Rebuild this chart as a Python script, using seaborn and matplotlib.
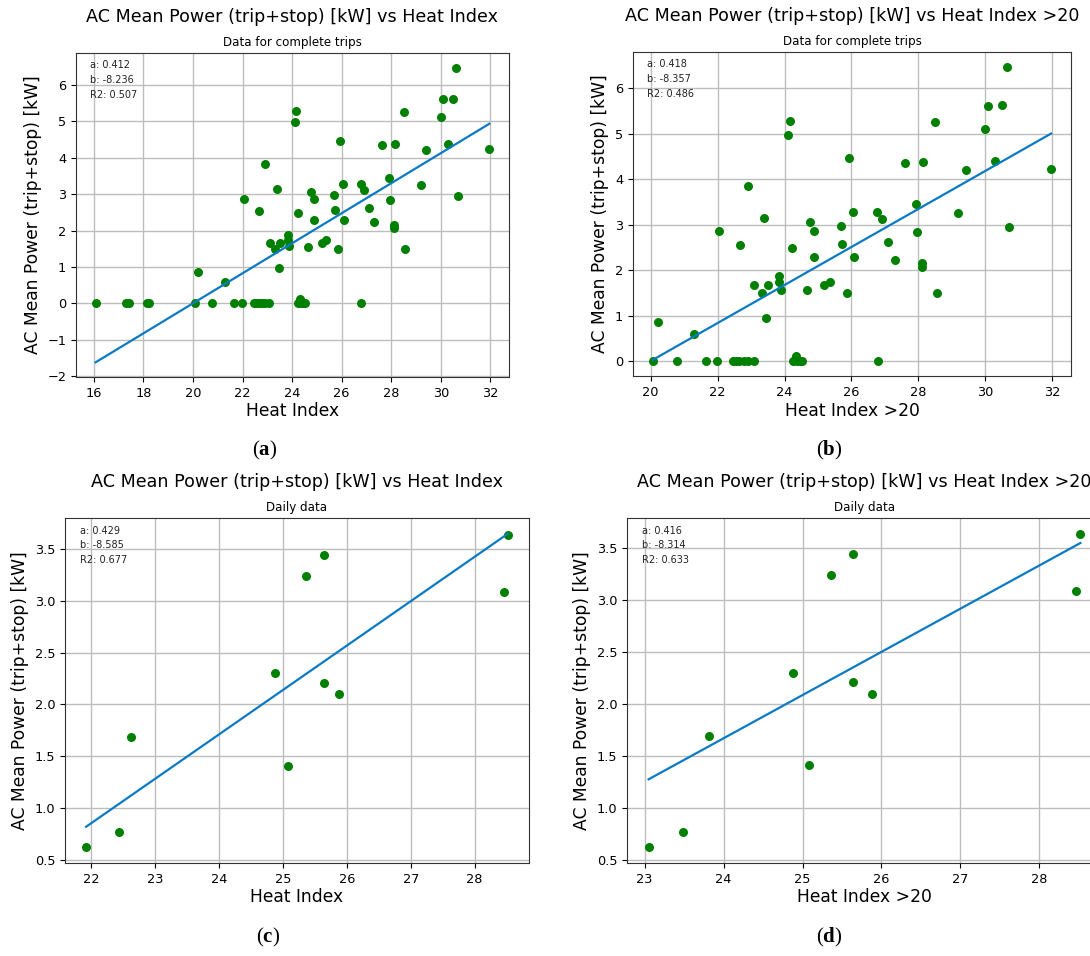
import numpy as np
import pandas as pd
import matplotlib
matplotlib.use("Agg")
import matplotlib.pyplot as plt
import seaborn as sns

# Data: complete trips (panel a; panel b keeps x >= 20)
trip_heat_index = [16.07, 17.30, 17.40, 18.13, 18.24, 20.07, 20.21, 20.78, 21.30, 21.65,
                   21.98, 22.04, 22.45, 22.55, 22.65, 22.66, 22.78, 22.90, 22.92, 23.08,
                   23.09, 23.32, 23.38, 23.45, 23.52, 23.83, 23.85, 23.88, 24.11, 24.15,
                   24.23, 24.24, 24.33, 24.36, 24.45, 24.51, 24.66, 24.75, 24.87, 24.89,
                   25.19, 25.36, 25.70, 25.72, 25.87, 25.92, 26.05, 26.08, 26.77, 26.80,
                   26.90, 27.10, 27.30, 27.61, 27.93, 27.96, 28.10, 28.12, 28.15, 28.50,
                   28.55, 29.19, 29.42, 29.99, 30.08, 30.28, 30.48, 30.63, 30.71, 31.96]
trip_power = [0.00, 0.00, 0.00, 0.00, 0.00, 0.00, 0.87, 0.00, 0.59, 0.00,
              0.00, 2.86, 0.00, 0.00, 0.00, 2.55, 0.00, 3.84, 0.00, 0.00,
              1.67, 1.50, 3.15, 0.96, 1.67, 1.74, 1.88, 1.57, 4.97, 5.28,
              2.48, 0.00, 0.12, 0.00, 0.00, 0.00, 1.56, 3.07, 2.30, 2.86,
              1.67, 1.74, 2.98, 2.57, 1.50, 4.47, 3.28, 2.29, 3.27, 0.00,
              3.12, 2.61, 2.23, 4.36, 3.45, 2.83, 2.15, 2.06, 4.37, 5.26,
              1.50, 3.26, 4.20, 5.11, 5.61, 4.39, 5.62, 6.47, 2.94, 4.23]

# Daily data (panels c and d)
daily_heat_index = [21.92, 22.44, 22.62, 24.88, 25.08, 25.36, 25.64, 25.64, 25.88, 28.46, 28.52]
daily_heat_index_gt20 = [23.05, 23.48, 23.82, 24.88, 25.08, 25.36, 25.64, 25.64, 25.88, 28.46, 28.52]
daily_power = [0.62, 0.77, 1.69, 2.30, 1.41, 3.24, 3.44, 2.21, 2.10, 3.09, 3.64]

# fit coefficients printed in the panels
fit_a = [0.412, 0.418, 0.429, 0.416]
fit_b = [-8.236, -8.357, -8.585, -8.314]
fit_r2 = [0.507, 0.486, 0.677, 0.633]

titles = ["AC Mean Power (trip+stop) [kW] vs Heat Index",
          "AC Mean Power (trip+stop) [kW] vs Heat Index >20",
          "AC Mean Power (trip+stop) [kW] vs Heat Index",
          "AC Mean Power (trip+stop) [kW] vs Heat Index >20"]
subtitles = ["Data for complete trips", "Data for complete trips", "Daily data", "Daily data"]
xlabels = ["Heat Index", "Heat Index >20", "Heat Index", "Heat Index >20"]
panel_tags = ["a", "b", "c", "d"]

trips = pd.DataFrame({"hi": trip_heat_index, "p": trip_power})
panels = [
    trips,
    trips[trips["hi"] >= 20],
    pd.DataFrame({"hi": daily_heat_index, "p": daily_power}),
    pd.DataFrame({"hi": daily_heat_index_gt20, "p": daily_power}),
]

plt.rcParams["mathtext.fontset"] = "custom"
plt.rcParams["mathtext.rm"] = "Liberation Serif"
plt.rcParams["mathtext.bf"] = "Liberation Serif:bold"

W, H = 1090, 956
fig = plt.figure(figsize=(W / 100, H / 100), dpi=100)

# axes boxes in pixels: left, right, top, bottom
boxes = [(76, 509, 53, 377), (633, 1071, 52, 376), (65, 529, 518, 863), (627, 1102, 518, 863)]
tag_pos = [(265, 450), (829, 450), (268, 937), (829, 937)]

for i, df in enumerate(panels):
    x0, x1, y0, y1 = boxes[i]
    ax = fig.add_axes([x0 / W, 1 - y1 / H, (x1 - x0) / W, (y1 - y0) / H])
    ax.set_axisbelow(True)
    ax.grid(True, color="#bdbdbd", linewidth=1.0)

    sns.scatterplot(data=df, x="hi", y="p", color="green", s=42, edgecolor="green",
                    linewidth=0, ax=ax, zorder=2)
    xs = np.array([df["hi"].min(), df["hi"].max()])
    sns.lineplot(x=xs, y=fit_a[i] * xs + fit_b[i], color="#0a7ac4", linewidth=1.6, ax=ax,
                 zorder=3)

    ax.set_xlabel(xlabels[i], fontsize=12.3, labelpad=2)
    ax.set_ylabel("AC Mean Power (trip+stop) [kW]", fontsize=12.3)
    ax.tick_params(labelsize=9.3)
    ax.set_title(subtitles[i], fontsize=8.6, pad=5)
    ax.annotate(titles[i], xy=(0.5, 1), xycoords="axes fraction", xytext=(0, 26),
                textcoords="offset points", ha="center", va="center", fontsize=12.6)
    ax.text(0.032, 0.978, f"a: {fit_a[i]}\nb: {fit_b[i]}\nR2: {fit_r2[i]}",
            transform=ax.transAxes, ha="left", va="top", fontsize=7, linespacing=1.6,
            color="#222222")
    for s in ax.spines.values():
        s.set_color("#333333")

    tx, ty = tag_pos[i]
    fig.text(tx / W, 1 - ty / H, "(" + r"$\mathbf{" + panel_tags[i] + "}$" + ")",
             family="Liberation Serif", fontsize=15, ha="center", va="center")

fig.savefig("out.png", dpi=100)
